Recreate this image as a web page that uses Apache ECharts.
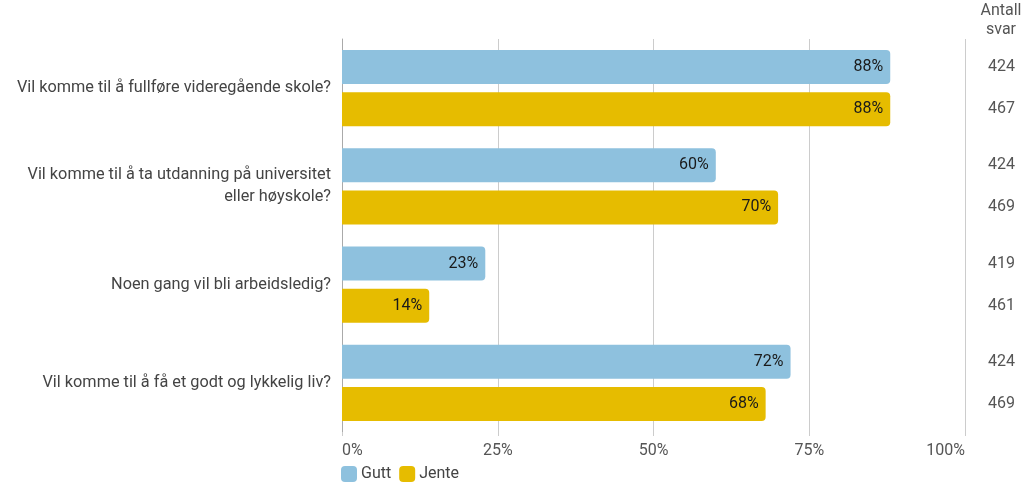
<!DOCTYPE html>
<html><head><meta charset="utf-8">
<script src="https://cdn.jsdelivr.net/npm/echarts@6/dist/echarts.min.js"></script>
<style>html,body{margin:0;padding:0;background:#fff}#c{width:1024px;height:487px}</style>
</head><body><div id="c"></div>
<script>
var categories = [
  'Vil komme til å fullføre videregående skole?',
  'Vil komme til å ta utdanning på universitet\neller høyskole?',
  'Noen gang vil bli arbeidsledig?',
  'Vil komme til å få et godt og lykkelig liv?'
];
var gutt = [88, 60, 23, 72];
var jente = [88, 70, 14, 68];
var guttN = [424, 424, 419, 424];
var jenteN = [467, 469, 461, 469];
var xTicks = [0, 25, 50, 75, 100];

var chart = echarts.init(document.getElementById('c'));
var font = 'Roboto';
chart.setOption({
  animation: false,
  textStyle: {fontFamily: font},
  grid: {left: 342, right: 59, top: 39, bottom: 55, containLabel: false, outerBoundsMode: 'none'},
  legend: {
    left: 341, bottom: 5, padding: 0, itemWidth: 16, itemHeight: 16, itemGap: 8,
    icon: 'roundRect',
    textStyle: {fontSize: 16, color: '#444', fontFamily: font, padding: [0, 0, 0, -1]},
    data: ['Gutt', 'Jente']
  },
  xAxis: {
    type: 'value', min: 0, max: 100, interval: 25,
    axisLine: {show: false},
    axisTick: {show: true, length: 4, lineStyle: {color: '#ccc'}},
    splitLine: {lineStyle: {color: '#ccc'}},
    axisLabel: {
      fontSize: 16, color: '#555', margin: 11,
      alignMinLabel: 'left', alignMaxLabel: 'right',
      formatter: function (v) { return xTicks.indexOf(v) >= 0 ? v + '%' : ''; }
    }
  },
  yAxis: [{
    type: 'category', data: categories, inverse: true,
    axisLine: {show: true, lineStyle: {color: '#aaa', width: 1}},
    axisTick: {show: false},
    axisLabel: {fontSize: 16.3, color: '#444', margin: 11, lineHeight: 22}
  }, {
    type: 'category', data: categories, inverse: true, position: 'right',
    axisLine: {show: false}, axisTick: {show: false},
    name: 'Antall\nsvar', nameLocation: 'start', nameGap: 0,
    nameTextStyle: {fontSize: 16, color: '#555', align: 'center', lineHeight: 19, padding: [0, 0, 0, 72]},
    axisLabel: {
      fontSize: 16, color: '#555', margin: 23, lineHeight: 42, align: 'left',
      formatter: function (v, i) { return guttN[i] + '\n' + jenteN[i]; }
    }
  }],
  series: [{
    name: 'Gutt', type: 'bar', data: gutt, barWidth: 34, barGap: '24%',
    itemStyle: {color: '#8ec1de', borderRadius: [0, 4, 4, 0]},
    label: {show: true, position: 'insideRight', distance: 7, fontSize: 16, color: '#1a1a1a', formatter: '{c}%'}
  }, {
    name: 'Jente', type: 'bar', data: jente, barWidth: 34, barGap: '24%',
    itemStyle: {color: '#e6bc00', borderRadius: [0, 4, 4, 0]},
    label: {show: true, position: 'insideRight', distance: 7, fontSize: 16, color: '#1a1a1a', formatter: '{c}%'}
  }]
});
</script></body></html>
